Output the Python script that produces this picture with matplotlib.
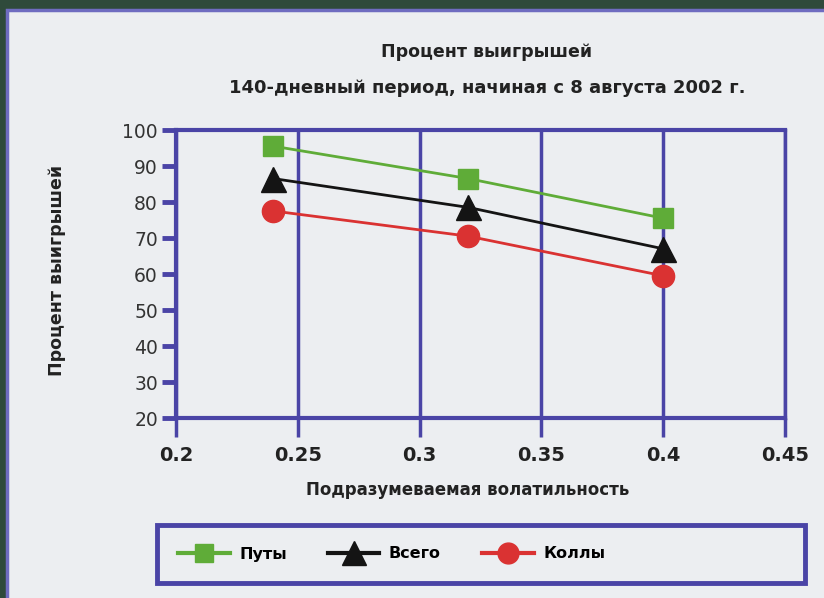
import matplotlib.pyplot as plt
from matplotlib.patches import Rectangle
from matplotlib.lines import Line2D

# Implied volatility and win percentages for each option group
volatility = [0.24, 0.32, 0.40]
puts = [95.5, 86.5, 75.5]
total = [86.5, 78.5, 67.0]
calls = [77.5, 70.5, 59.5]

x_ticks = [0.2, 0.25, 0.3, 0.35, 0.4, 0.45]
x_labels = ["0.2", "0.25", "0.3", "0.35", "0.4", "0.45"]
y_ticks = [20, 30, 40, 50, 60, 70, 80, 90, 100]

BLUE = "#4a44a6"
GREEN = "#5fac38"
BLACK = "#141414"
RED = "#da3232"
PANEL = "#eceef1"
TEXT = "#222222"

plt.rcParams["font.family"] = ["DejaVu Sans"]

fig = plt.figure(figsize=(8.24, 5.98), dpi=100, facecolor="#2f4a3b")
W, H = 824, 598

# light panel with a thin blue rim on the outer border
fig.patches.append(Rectangle((7 / W, -0.05), 1, 1.05 - 10 / H, transform=fig.transFigure,
                             facecolor=PANEL, edgecolor="#6f6cc0", linewidth=2.5,
                             zorder=-5))

ax = fig.add_axes([176 / W, 1 - 418 / H, (785 - 176) / W, (418 - 130) / H])
ax.set_facecolor(PANEL)

ax.plot(volatility, puts, color=GREEN, lw=2, marker="s", ms=14, zorder=4)
ax.plot(volatility, total, color=BLACK, lw=2, marker="^", ms=18, zorder=4)
ax.plot(volatility, calls, color=RED, lw=2, marker="o", ms=16, zorder=4)

ax.set_xlim(0.2, 0.45)
ax.set_ylim(20, 100)
ax.set_xticks(x_ticks)
ax.set_xticklabels(x_labels, fontsize=14, fontweight="bold", color=TEXT)
ax.set_yticks(y_ticks)
ax.tick_params(axis="y", direction="out", length=10, width=3.5, color=BLUE,
               labelsize=13.5, labelcolor="#333333", pad=3)
ax.tick_params(axis="x", direction="out", length=14, width=2.5, color=BLUE, pad=6)

for side in ["left", "right", "top", "bottom"]:
    ax.spines[side].set_color(BLUE)
    ax.spines[side].set_linewidth(3)
ax.spines["right"].set_linewidth(2.5)

ax.grid(axis="x", color=BLUE, lw=2.5, zorder=1)
ax.set_axisbelow(True)

fig.text(487 / W, 1 - 52 / H, "Процент выигрышей", ha="center", va="center",
         fontsize=12.5, fontweight="bold", color=TEXT)
fig.text(487 / W, 1 - 88 / H, "140-дневный период, начиная с 8 августа 2002 г.",
         ha="center", va="center", fontsize=13, fontweight="bold", color=TEXT)
fig.text(57 / W, 1 - 270 / H, "Процент выигрышей", ha="center", va="center",
         rotation=90, fontsize=12.5, fontweight="bold", color=TEXT)
fig.text(468 / W, 1 - 490 / H, "Подразумеваемая волатильность", ha="center",
         va="center", fontsize=12, fontweight="bold", color=TEXT)

# legend frame drawn separately so the entries stay packed on the left
fig.patches.append(Rectangle((157 / W, 1 - 583 / H), 648 / W, 58 / H,
                             transform=fig.transFigure, facecolor=PANEL,
                             edgecolor=BLUE, linewidth=3.5, zorder=1))
handles = [
    Line2D([], [], color=GREEN, lw=3, marker="s", ms=13),
    Line2D([], [], color=BLACK, lw=3, marker="^", ms=17),
    Line2D([], [], color=RED, lw=3, marker="o", ms=15),
]
leg = fig.legend(handles, ["Путы", "Всего", "Коллы"], ncol=3,
                 loc="center left", bbox_to_anchor=(172 / W, 1 - 554 / H),
                 borderaxespad=0, handlelength=3.2, handletextpad=0.6,
                 columnspacing=2.6, frameon=False,
                 prop={"size": 11.5, "weight": "bold"})
leg.set_zorder(2)

fig.savefig("out.png", dpi=100, facecolor=fig.get_facecolor())
